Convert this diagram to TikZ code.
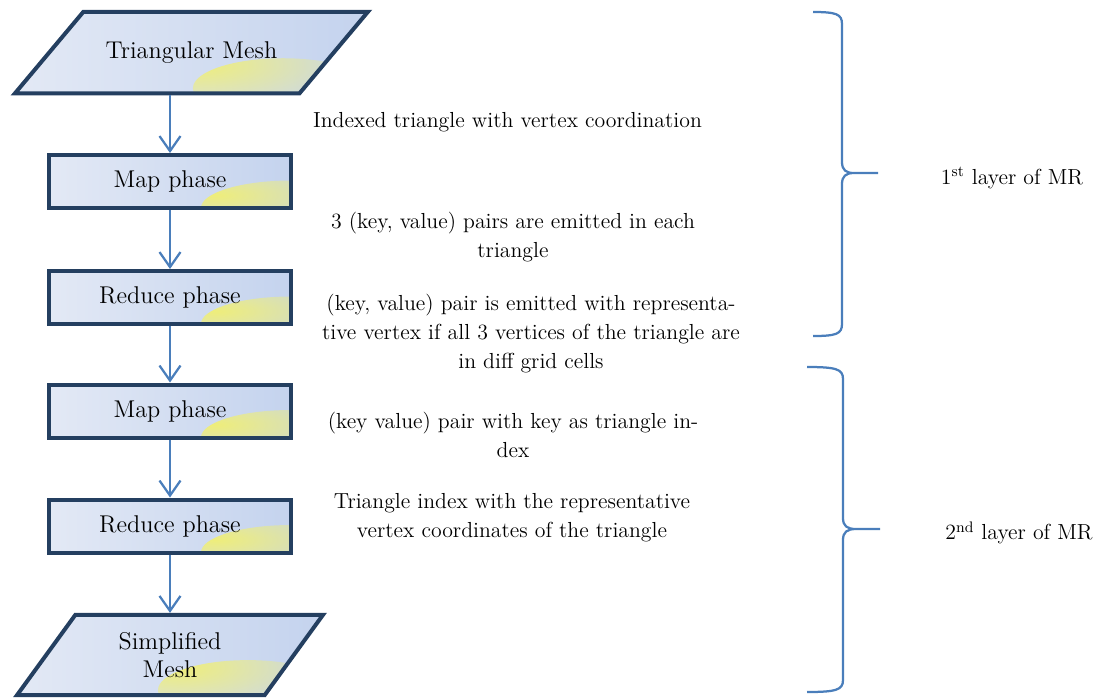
\documentclass[tikz,border=0pt]{standalone}
\usetikzlibrary{arrows.meta, positioning, shapes.geometric, fadings}
\definecolor{cnavy}{HTML}{243F60}
\definecolor{cblue}{HTML}{4A7EBB}
\definecolor{lightL}{HTML}{E3E9F5}
\definecolor{lightR}{HTML}{C4D3EE}
\definecolor{lightY}{HTML}{F2F06E}
\tikzfading[name=softglow, inner color=transparent!10, outer color=transparent!100]

\tikzset{
  phasebox/.style={rectangle, draw=cnavy, line width=0.08cm, left color=lightL, right color=lightR,
    minimum width=4.84cm, minimum height=1.06cm, inner sep=0pt, font=\fontsize{13.8}{16}\selectfont,
    path picture={\fill[lightY, path fading=softglow] (path picture bounding box.south east) ellipse (1.8cm and 0.55cm);}},
  iobox/.style={trapezium, trapezium stretches body=true, draw=cnavy, line width=0.08cm, left color=lightL, right color=lightR,
    inner xsep=0pt, align=center, font=\fontsize{13.8}{15.5}\selectfont},
  desc/.style={align=center, font=\fontsize{12.4}{16.5}\selectfont},
  flow/.style={draw=cblue, line width=0.045cm, -{Straight Barb[length=0.3cm, width=0.42cm]}},
  brace/.style={draw=cblue, line width=0.045cm}
}

\begin{document}
\begin{tikzpicture}[x=0.02cm, y=-0.02cm]
  \useasboundingbox (0,0) rectangle (1117,698);

  % Flow of the two MR layers
  \node[iobox, trapezium left angle=50, trapezium right angle=130, minimum width=7.06cm, inner ysep=0.597cm,
    path picture={\fill[lightY, path fading=softglow] ([xshift=-1.7cm, yshift=0.1cm]path picture bounding box.south east) ellipse (1.8cm and 0.6cm);}]
    (mesh) at (191.5,52.5) {Triangular Mesh};
  \node[phasebox] (mapA) at (170,181.5) {Map phase};
  \node[phasebox] (reduceA) at (170,297.5) {Reduce phase};
  \node[phasebox] (mapB) at (170,411) {Map phase};
  \node[phasebox] (reduceB) at (170,526) {Reduce phase};
  \node[iobox, trapezium left angle=54, trapezium right angle=126, minimum width=6.12cm, inner ysep=0.357cm,
    path picture={\fill[lightY, path fading=softglow] ([xshift=-1.5cm, yshift=0.1cm]path picture bounding box.south east) ellipse (1.8cm and 0.6cm);}]
    (simple) at (170,655) {Simplified\\Mesh};

  \draw[flow] (mesh.south -| mapA.north) -- (mapA.north);
  \draw[flow] (mapA) -- (reduceA);
  \draw[flow] (reduceA) -- (mapB);
  \draw[flow] (mapB) -- (reduceB);
  \draw[flow] (reduceB.south) -- (simple.north -| reduceB.south);

  % What is passed between the phases
  \node[desc] (descA) at (507.5,122) {Indexed triangle with vertex coordination};
  \node[desc] (descB) at (513,237.5) {3 (key, value) pairs are emitted in each\\triangle};
  \node[desc] (descC) at (531,334) {(key, value) pair is emitted with representa-\\tive vertex if all 3 vertices of the triangle are\\in diff grid cells};
  \node[desc] (descD) at (513,435) {(key value) pair with key as triangle in-\\dex};
  \node[desc] (descE) at (512,518) {Triangle index with the representative\\vertex coordinates of the triangle};

  % Braces for the layers
  \coordinate (tipA) at (878,173);
  \coordinate (tipB) at (880,529);
  \draw[brace] (813,12) .. controls (836,12) and (842,14) .. (842,24) -- (842,162)
    .. controls (842,170) and (846,173) .. (854,173) -- (tipA) -- (854,173)
    .. controls (846,173) and (842,176) .. (842,184) -- (842,324)
    .. controls (842,334) and (836,336) .. (813,336);
  \draw[brace] (807,367) .. controls (836,367) and (843,369) .. (843,379) -- (843,518)
    .. controls (843,526) and (847,529) .. (856,529) -- (tipB) -- (856,529)
    .. controls (847,529) and (843,532) .. (843,540) -- (843,680)
    .. controls (843,690) and (836,692) .. (807,692);
  \node[desc] (layerA) at (1012,178) {1\textsuperscript{st} layer of MR};
  \node[desc] (layerB) at (1019,533) {2\textsuperscript{nd} layer of MR};
\end{tikzpicture}
\end{document}
